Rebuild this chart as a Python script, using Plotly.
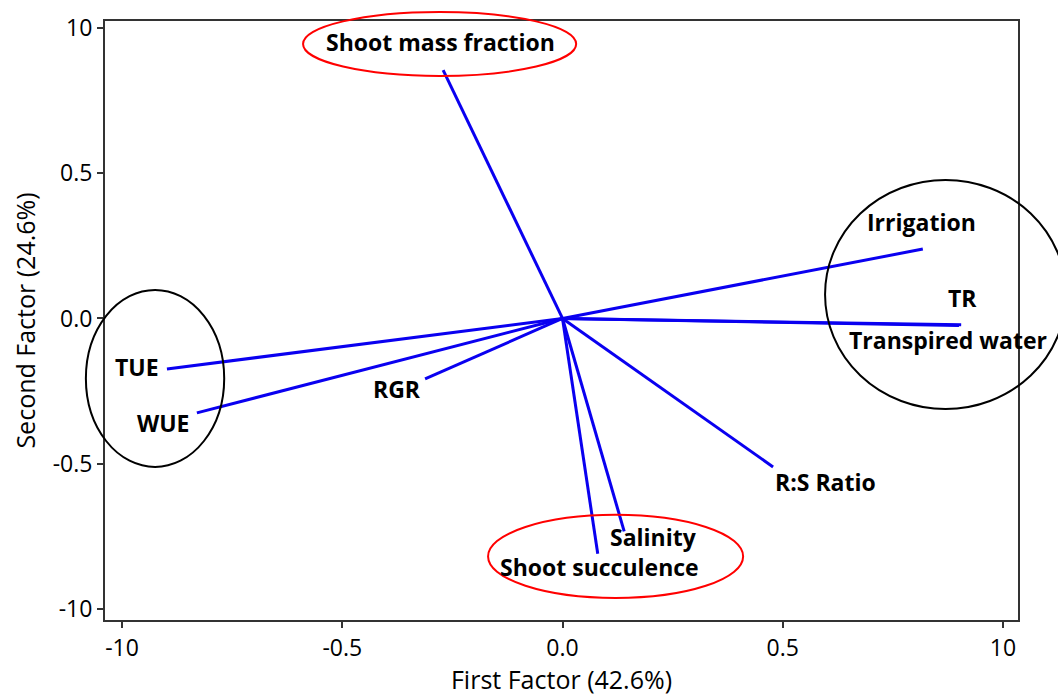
import plotly.graph_objects as go

# ---- data: loading vectors (First factor, Second factor) ----
variables = ["Shoot mass fraction", "Irrigation", "TR", "Transpired water",
             "TUE", "WUE", "RGR", "R:S Ratio", "Salinity", "Shoot succulence"]
factor1 = [-0.271, 0.818, 0.905, 0.900, -0.898, -0.830, -0.312, 0.478, 0.140, 0.080]
factor2 = [0.855, 0.239, -0.022, -0.024, -0.174, -0.325, -0.208, -0.511, -0.733, -0.810]

tick_vals = [-1.0, -0.5, 0.0, 0.5, 1.0]
tick_text = ["-10", "-0.5", "0.0", "0.5", "10"]
x_title = "First Factor (42.6%)"
y_title = "Second Factor (24.6%)"

# label placement (pixel shifts from vector tip, anchors)
label_style = {
    "Shoot mass fraction": (-3, 28, "center"),
    "Irrigation": (-1, 27, "center"),
    "TR": (1, 27, "center"),
    "Transpired water": (-11, -15, "center"),
    "TUE": (-6, 2, "right"),
    "WUE": (-5, -10, "right"),
    "RGR": (-2, -10, "right"),
    "R:S Ratio": (0, -15, "left"),
    "Salinity": (-16, -6, "left"),
    "Shoot succulence": (2, -13, "center"),
}

# grouping ellipses (data units: x0, x1, y0, y1, colour)
groups = [
    (-1.082, -0.768, -0.511, 0.098, "black"),
    (0.596, 1.143, -0.312, 0.477, "black"),
    (-0.589, 0.031, 0.835, 1.055, "red"),
    (-0.169, 0.410, -0.962, -0.676, "red"),
]

XR = [-1.0386, 1.034]
YR = [-1.038, 1.024]

fig = go.Figure()
for name, fx, fy in zip(variables, factor1, factor2):
    fig.add_trace(go.Scatter(x=[0, fx], y=[0, fy], mode="lines",
                             line=dict(color="#0a00f0", width=3),
                             name=name, showlegend=False, hoverinfo="skip"))

for name, fx, fy in zip(variables, factor1, factor2):
    dx, dy, anchor = label_style[name]
    fig.add_annotation(x=fx, y=fy, text="<b>%s</b>" % name, showarrow=False,
                       xshift=dx, yshift=dy, xanchor=anchor, yanchor="middle",
                       font=dict(family="Open Sans", size=23, color="black"))


def px(v):
    return (v - XR[0]) / (XR[1] - XR[0])


def py(v):
    return (v - YR[0]) / (YR[1] - YR[0])


for x0, x1, y0, y1, c in groups:
    fig.add_shape(type="circle", xref="paper", yref="paper",
                  x0=px(x0), x1=px(x1), y0=py(y0), y1=py(y1),
                  line=dict(color=c, width=2), layer="above")

axis_common = dict(showgrid=False, zeroline=False, showline=True, mirror=True,
                   linecolor="#333333", linewidth=2, ticks="outside", ticklen=6,
                   tickwidth=1.5, tickcolor="#333333", automargin=False,
                   tickfont=dict(family="Open Sans", size=23, color="black"),
                   tickvals=tick_vals, ticktext=tick_text)

fig.update_xaxes(range=XR, title=dict(text=x_title, standoff=14,
                 font=dict(family="Open Sans", size=25, color="black")), **axis_common)
fig.update_yaxes(range=YR, title=dict(text=y_title, standoff=10,
                 font=dict(family="Open Sans", size=25, color="black")), **axis_common)

fig.update_layout(width=1058, height=696, autosize=False,
                  margin=dict(l=105, r=40, t=21, b=76),
                  paper_bgcolor="white", plot_bgcolor="white")

fig.write_html("out.html")
